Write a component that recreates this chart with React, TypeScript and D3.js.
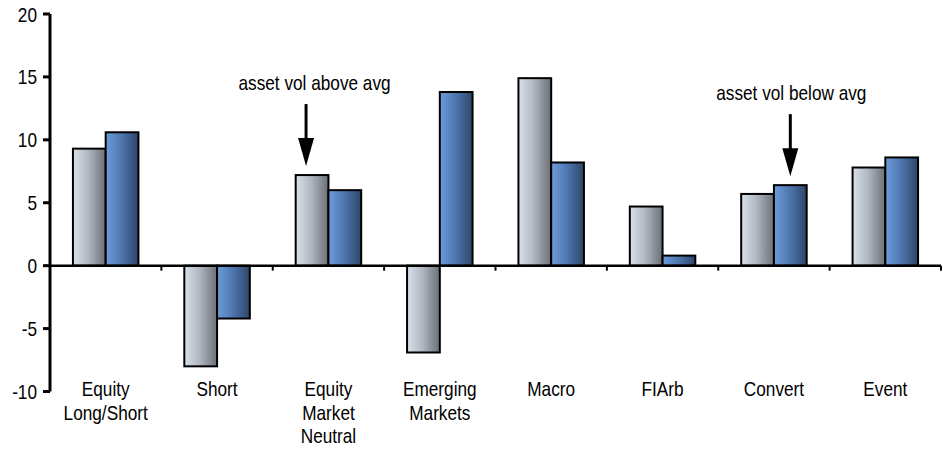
import React from "react";
import * as d3 from "d3";

const categories: string[][] = [
  ["Equity", "Long/Short"],
  ["Short"],
  ["Equity", "Market", "Neutral"],
  ["Emerging", "Markets"],
  ["Macro"],
  ["FIArb"],
  ["Convert"],
  ["Event"],
];
const seriesGray = [9.3, -8.0, 7.2, -6.9, 14.9, 4.7, 5.7, 7.8];
const seriesBlue = [10.6, -4.2, 6.0, 13.8, 8.2, 0.8, 6.4, 8.6];
const yTicks = [-10, -5, 0, 5, 10, 15, 20];
const annotations = [
  { text: "asset vol above avg", cat: 2, bar: 0, value: 7.2 },
  { text: "asset vol below avg", cat: 6, bar: 1, value: 6.4 },
];

const W = 943;
const H = 449;
const FONT = "'Liberation Sans', Arial, sans-serif";
const FS = 21;
const SX = 0.82;

function NText({
  x,
  y,
  anchor = "middle",
  dy = "0",
  children,
}: {
  x: number;
  y: number;
  anchor?: "start" | "middle" | "end";
  dy?: string;
  children: React.ReactNode;
}) {
  return (
    <g transform={`translate(${x},${y}) scale(${SX},1)`}>
      <text x={0} y={0} dy={dy} textAnchor={anchor} fontSize={FS} fill="#000">
        {children}
      </text>
    </g>
  );
}

export default function App() {
  const x0 = 50;
  const x1 = 941;
  const y = d3.scaleLinear().domain([-10, 20]).range([391.5, 14]);
  const band = d3
    .scaleBand<number>()
    .domain(categories.map((_, i) => i))
    .range([x0, x1])
    .paddingInner(0)
    .paddingOuter(0);
  const bw = band.bandwidth();
  const barW = bw * 0.294;
  const barX = (i: number, k: number) => (band(i) as number) + bw / 2 - barW + k * barW;
  const y0 = y(0);

  const bars = (vals: number[], k: number, fill: string) =>
    vals.map((v, i) => (
      <rect
        key={`${k}-${i}`}
        x={barX(i, k)}
        y={Math.min(y(v), y0)}
        width={barW}
        height={Math.abs(y(v) - y0)}
        fill={fill}
        stroke="#000"
        strokeWidth={2}
      />
    ));

  return (
    <svg
      width={W}
      height={H}
      style={{ position: "absolute", left: 0, top: 0, background: "#fff" }}
      fontFamily={FONT}
    >
      <defs>
        <linearGradient id="gGray" x1="0" x2="1" y1="0" y2="0">
          <stop offset="0" stopColor="#d8e1ec" />
          <stop offset="0.45" stopColor="#b3b9c2" />
          <stop offset="1" stopColor="#6b6f76" />
        </linearGradient>
        <linearGradient id="gBlue" x1="0" x2="1" y1="0" y2="0">
          <stop offset="0" stopColor="#6d9ddb" />
          <stop offset="0.45" stopColor="#5079b3" />
          <stop offset="1" stopColor="#2d4668" />
        </linearGradient>
      </defs>

      {bars(seriesGray, 0, "url(#gGray)")}
      {bars(seriesBlue, 1, "url(#gBlue)")}

      {/* y axis */}
      <line x1={x0} x2={x0} y1={y(20)} y2={y(-10)} stroke="#000" strokeWidth={3} />
      {yTicks.map((t) => (
        <g key={t}>
          <line x1={x0 - 7} x2={x0} y1={y(t)} y2={y(t)} stroke="#000" strokeWidth={3} />
          <NText x={x0 - 13} y={y(t)} anchor="end" dy="0.36em">
            {t}
          </NText>
        </g>
      ))}

      {/* zero line */}
      <line x1={x0} x2={x1} y1={y0} y2={y0} stroke="#000" strokeWidth={2.5} />
      {categories.map((_, i) => (
        <line
          key={i}
          x1={(band(i) as number) + bw}
          x2={(band(i) as number) + bw}
          y1={y0}
          y2={y0 + 5}
          stroke="#000"
          strokeWidth={2}
        />
      ))}

      {/* category labels */}
      {categories.map((lines, i) =>
        lines.map((l, j) => (
          <NText key={`${i}-${j}`} x={(band(i) as number) + bw / 2} y={396 + j * 23.5}>
            {l}
          </NText>
        ))
      )}

      {/* annotations */}
      {annotations.map((a, i) => {
        const ax = barX(a.cat, a.bar) + barW / 2 + (a.bar === 0 ? -6 : 0);
        const tipY = y(a.value) - 9;
        const topY = tipY - 62;
        const headH = 28;
        return (
          <g key={i}>
            <NText x={ax + (i === 0 ? 8.5 : 1)} y={topY - 14}>
              {a.text}
            </NText>
            <line x1={ax} x2={ax} y1={topY} y2={tipY - headH + 2} stroke="#000" strokeWidth={3} />
            <path
              d={`M${ax - 8},${tipY - headH} L${ax + 8},${tipY - headH} L${ax},${tipY} Z`}
              fill="#000"
            />
          </g>
        );
      })}
    </svg>
  );
}
